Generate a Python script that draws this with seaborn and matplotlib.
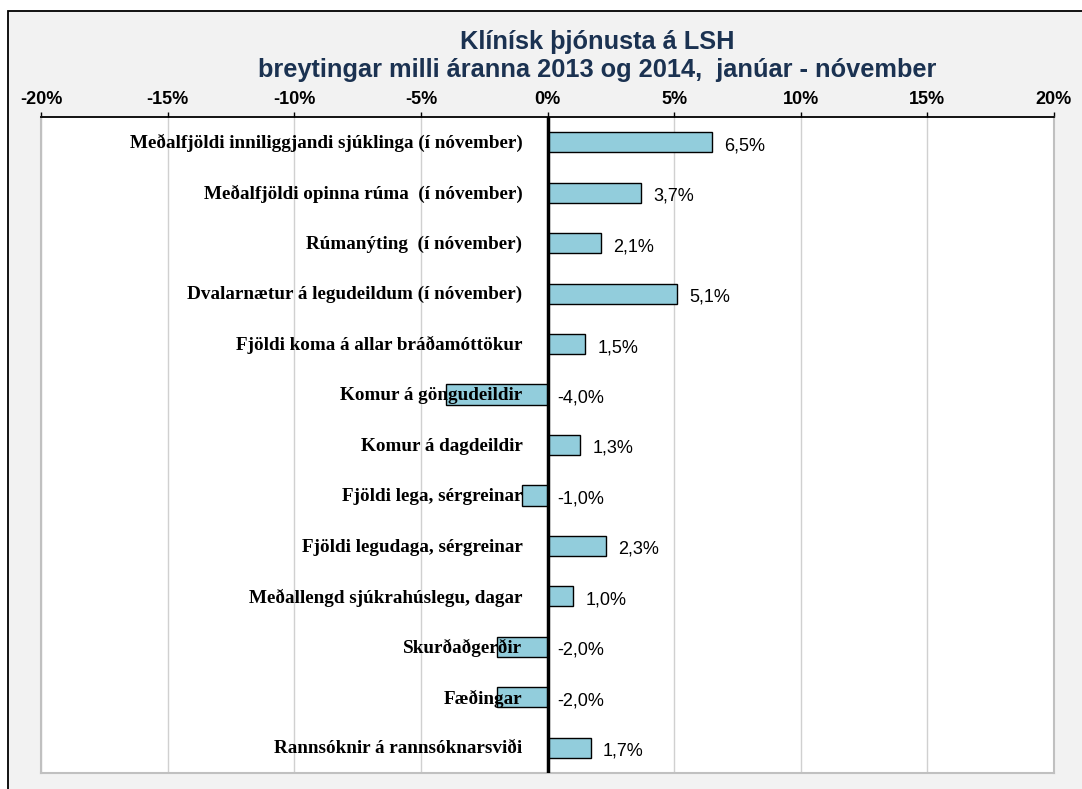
import matplotlib
matplotlib.use("Agg")
import matplotlib.pyplot as plt
import matplotlib.patches as mpatches
from matplotlib.ticker import FuncFormatter, MultipleLocator
import seaborn as sns
import pandas as pd

categories = [
    "Meðalfjöldi inniliggjandi sjúklinga (í nóvember)",
    "Meðalfjöldi opinna rúma  (í nóvember)",
    "Rúmanýting  (í nóvember)",
    "Dvalarnætur á legudeildum (í nóvember)",
    "Fjöldi koma á allar bráðamóttökur",
    "Komur á göngudeildir",
    "Komur á dagdeildir",
    "Fjöldi lega, sérgreinar",
    "Fjöldi legudaga, sérgreinar",
    "Meðallengd sjúkrahúslegu, dagar",
    "Skurðaðgerðir",
    "Fæðingar",
    "Rannsóknir á rannsóknarsviði",
]
values = [6.5, 3.7, 2.1, 5.1, 1.5, -4.0, 1.3, -1.0, 2.3, 1.0, -2.0, -2.0, 1.7]
title_lines = ["Klínísk þjónusta á LSH",
               "breytingar milli áranna 2013 og 2014,  janúar - nóvember"]

df = pd.DataFrame({"cat": categories, "value": values})

sns.set_theme(style="white")
plt.rcParams["font.family"] = ["Liberation Sans", "DejaVu Sans"]
plt.rcParams["text.color"] = "black"
plt.rcParams["xtick.color"] = "black"

W, H = 1082, 789
fig = plt.figure(figsize=(W / 100, H / 100), dpi=100, facecolor="white")

# outer chart frame
frame = mpatches.Rectangle((8 / W, -0.05), 1.1, 1 - 11 / H + 0.05,
                           transform=fig.transFigure, facecolor="#f2f2f2",
                           edgecolor="black", linewidth=1.3, zorder=-10)
fig.patches.append(frame)

ax = fig.add_axes([41 / W, 1 - 773 / H, (1054 - 41) / W, (773 - 117) / H])
ax.set_zorder(2)
ax.set_facecolor("white")

sns.barplot(data=df, x="value", y="cat", orient="h", color="#92CDDC",
            edgecolor="black", linewidth=1.0, width=0.4, saturation=1,
            ax=ax, zorder=3)

ax.set_xlim(-20, 20)
ax.set_ylim(len(categories) - 0.5, -0.5)
ax.xaxis.set_major_locator(MultipleLocator(5))
ax.xaxis.set_major_formatter(FuncFormatter(lambda v, p: f"{v:.0f}%"))
ax.xaxis.tick_top()
ax.xaxis.set_label_position("top")
ax.tick_params(axis="x", which="major", direction="out", length=3.5, width=1,
               color="black", labelcolor="black", pad=3, labelsize=13,
               top=True, bottom=False)
for lbl in ax.get_xticklabels():
    lbl.set_fontweight("bold")
ax.set_yticks([])
ax.set_xlabel("")
ax.set_ylabel("")
ax.grid(axis="x", color="#d0d0d0", linewidth=1, zorder=0)
ax.set_axisbelow(True)

for side in ["left", "right", "bottom"]:
    ax.spines[side].set_color("#c0c0c0")
    ax.spines[side].set_linewidth(1.5)
ax.spines["top"].set_color("black")
ax.spines["top"].set_linewidth(1.3)

ax.axvline(0, color="black", linewidth=2.5, zorder=5)

for i, (c, v) in enumerate(zip(categories, values)):
    ax.annotate(c, xy=(0, i), xytext=(-18, -0.8), textcoords="offset points",
                ha="right", va="center", fontsize=13.8, fontweight="bold",
                family=["Liberation Serif", "DejaVu Serif"], color="black",
                zorder=6)
    xv = v if v > 0 else 0
    off = 9 if v > 0 else 7
    ax.annotate(f"{v:.1f}%".replace(".", ","), xy=(xv, i), xytext=(off, -2.5),
                textcoords="offset points", ha="left", va="center",
                fontsize=13, color="black", zorder=6)

tcol = "#1b3251"
fig.text(597 / W, 1 - 42 / H, title_lines[0], ha="center", va="center",
         fontsize=18.3, fontweight="bold", color=tcol)
fig.text(597 / W, 1 - 70 / H, title_lines[1], ha="center", va="center",
         fontsize=18.3, fontweight="bold", color=tcol)

fig.savefig("out.png", dpi=100, facecolor="white")
